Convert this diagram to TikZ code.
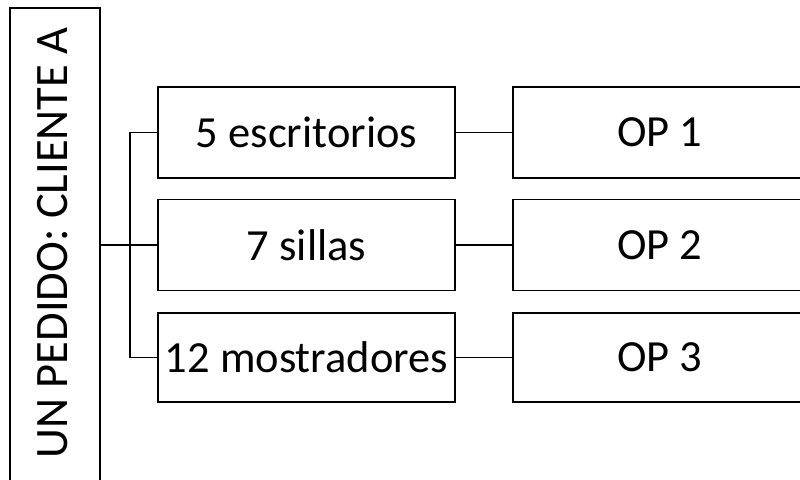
\documentclass[tikz,border=0pt]{standalone}
\usepackage{fontspec}
\setmainfont{Carlito}
\begin{document}
\begin{tikzpicture}[x=1pt,y=1pt,
  box/.style={draw=black, line width=1.6pt, rectangle, inner sep=0pt, font=\fontsize{44.5}{50}\selectfont},
  conn/.style={draw=black, line width=1.5pt},
  lbl/.style={inner sep=0pt, font=\fontsize{46.5}{52}\selectfont}]
\useasboundingbox (0,0) rectangle (800,479);
\fill[white] (0,0) rectangle (800,479);
\clip (0,0) rectangle (800,479);
% left tall box
\node[box, minimum width=90pt, minimum height=474pt] (L) at (55,234) {};
\node[lbl, rotate=90] (Lt) at (53,236) {UN PEDIDO: CLIENTE A};
% middle boxes
\node[box, minimum width=297pt, minimum height=91pt] (m1) at (306.5,346.5) {5 escritorios};
\node[box, minimum width=297pt, minimum height=91pt] (m2) at (306.5,234) {7 sillas};
\node[box, minimum width=297pt, minimum height=89pt] (m3) at (306.5,121.5) {12 mostradores};
% right boxes
\node[box, minimum width=294pt, minimum height=91pt] (r1) at (660,346.5) {OP 1};
\node[box, minimum width=294pt, minimum height=91pt] (r2) at (660,234) {OP 2};
\node[box, minimum width=294pt, minimum height=89pt] (r3) at (660,121.5) {OP 3};
% connectors
\coordinate (J) at (130,234);
\draw[conn] (L.east) -- (m2.west);
\draw[conn] (m1.west) -| (J) |- (m3.west);
\draw[conn] (m1.east) -- (r1.west);
\draw[conn] (m2.east) -- (r2.west);
\draw[conn] (m3.east) -- (r3.west);
\end{tikzpicture}
\end{document}
